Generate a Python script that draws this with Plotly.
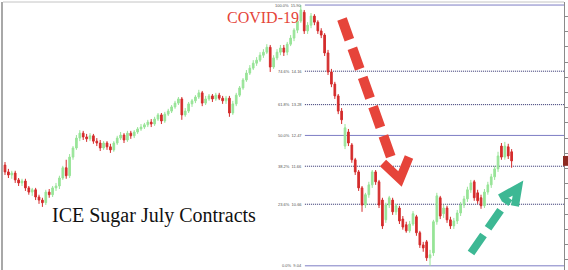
import plotly.graph_objects as go

# ---------------- data ----------------
idx = list(range(150))

open_ = [11.69, 11.51, 11.43, 11.48, 11.30, 11.22, 11.27, 11.09, 10.98, 11.04,
         10.85, 10.77, 10.70, 10.98, 10.91, 11.09, 11.14, 11.35, 11.62, 11.41,
         11.90, 12.14, 12.40, 12.53, 12.43, 12.38, 12.46, 12.32, 12.27, 12.14,
         12.27, 12.17, 12.09, 12.27, 12.40, 12.48, 12.35, 12.53, 12.46, 12.56,
         12.64, 12.69, 12.75, 12.82, 12.77, 12.90, 13.01, 12.85, 13.03, 13.11,
         13.22, 13.32, 13.43, 13.01, 13.11, 13.30, 13.38, 13.48, 13.59, 13.32,
         13.43, 13.51, 13.43, 13.53, 13.45, 13.38, 13.45, 13.06, 13.30, 13.53,
         13.72, 13.93, 14.11, 14.24, 14.37, 14.45, 14.58, 14.66, 14.79, 14.27,
         14.51, 14.66, 14.77, 14.66, 14.87, 15.03, 15.24, 15.48, 15.71, 15.22,
         15.37, 15.61, 15.45, 15.22, 15.11, 14.64, 14.14, 13.82, 13.51, 13.11,
         12.19, 12.56, 12.22, 11.83, 11.51, 11.09, 10.64, 10.91, 11.17, 11.51,
         11.25, 10.77, 10.25, 10.64, 10.77, 10.46, 10.56, 10.27, 10.12, 9.96,
         10.14, 10.33, 9.91, 9.59, 9.67, 9.25, 9.38, 10.20, 10.83, 10.41,
         10.56, 10.25, 10.09, 10.22, 10.43, 10.64, 10.80, 11.04, 11.25, 10.96,
         10.83, 10.62, 10.98, 11.17, 11.38, 11.59, 12.19, 11.90, 12.17, 12.04]

high = [11.77, 11.59, 11.54, 11.54, 11.35, 11.33, 11.33, 11.14, 11.09, 11.09,
        10.91, 10.83, 11.04, 11.06, 11.14, 11.22, 11.41, 11.67, 11.83, 11.98,
        12.19, 12.48, 12.61, 12.59, 12.51, 12.53, 12.51, 12.40, 12.35, 12.32,
        12.32, 12.25, 12.32, 12.46, 12.56, 12.53, 12.59, 12.59, 12.61, 12.69,
        12.77, 12.80, 12.88, 12.90, 12.96, 13.06, 13.06, 13.09, 13.17, 13.27,
        13.38, 13.48, 13.48, 13.19, 13.35, 13.43, 13.53, 13.67, 13.64, 13.51,
        13.56, 13.56, 13.59, 13.59, 13.51, 13.51, 13.51, 13.38, 13.59, 13.77,
        13.98, 14.19, 14.32, 14.45, 14.53, 14.66, 14.74, 14.87, 14.85, 14.58,
        14.74, 14.85, 14.85, 14.93, 15.11, 15.29, 15.56, 15.90, 15.77, 15.45,
        15.69, 15.66, 15.50, 15.29, 15.16, 14.72, 14.22, 13.88, 13.56, 13.19,
        12.77, 12.64, 12.27, 11.88, 11.56, 11.14, 10.96, 11.25, 11.56, 11.56,
        11.30, 10.83, 10.70, 10.88, 10.83, 10.67, 10.62, 10.35, 10.20, 10.22,
        10.48, 10.38, 9.96, 9.67, 9.72, 9.46, 10.25, 10.96, 10.88, 10.64,
        10.62, 10.33, 10.30, 10.51, 10.72, 10.88, 11.12, 11.30, 11.30, 11.04,
        10.91, 11.06, 11.25, 11.46, 11.67, 12.04, 12.27, 12.30, 12.25, 12.11]

low = [11.43, 11.35, 11.33, 11.22, 11.14, 11.14, 11.01, 10.91, 10.88, 10.77,
       10.67, 10.59, 10.64, 10.83, 10.85, 11.01, 11.06, 11.30, 11.33, 11.35,
       11.83, 12.09, 12.32, 12.35, 12.30, 12.32, 12.25, 12.19, 12.06, 12.09,
       12.09, 12.01, 12.04, 12.22, 12.35, 12.27, 12.30, 12.38, 12.40, 12.51,
       12.59, 12.64, 12.69, 12.69, 12.72, 12.85, 12.77, 12.80, 12.98, 13.06,
       13.17, 13.27, 12.88, 12.96, 13.06, 13.22, 13.32, 13.43, 13.24, 13.27,
       13.38, 13.35, 13.38, 13.40, 13.30, 13.30, 12.96, 13.01, 13.24, 13.48,
       13.67, 13.88, 14.06, 14.19, 14.30, 14.40, 14.51, 14.61, 14.14, 14.22,
       14.45, 14.58, 14.56, 14.58, 14.82, 14.95, 15.16, 15.43, 15.14, 15.14,
       15.29, 15.37, 15.14, 15.03, 14.56, 14.06, 13.74, 13.43, 13.03, 12.77,
       12.11, 12.19, 11.75, 11.43, 11.01, 10.46, 10.56, 10.83, 11.09, 11.17,
       10.56, 10.01, 10.17, 10.56, 10.38, 10.38, 10.14, 9.99, 9.91, 9.91,
       10.09, 9.83, 9.51, 9.41, 9.17, 9.04, 9.30, 10.12, 10.27, 10.30,
       10.17, 10.01, 10.01, 10.14, 10.35, 10.56, 10.72, 10.96, 10.75, 10.67,
       10.54, 10.56, 10.91, 11.09, 11.30, 11.51, 11.83, 11.83, 11.85, 11.62]

close = [11.51, 11.43, 11.48, 11.30, 11.22, 11.27, 11.09, 10.98, 11.04, 10.85,
         10.77, 10.70, 10.98, 10.91, 11.09, 11.14, 11.35, 11.62, 11.41, 11.90,
         12.14, 12.40, 12.53, 12.43, 12.38, 12.46, 12.32, 12.27, 12.14, 12.27,
         12.17, 12.09, 12.27, 12.40, 12.48, 12.35, 12.53, 12.46, 12.56, 12.64,
         12.69, 12.75, 12.82, 12.77, 12.90, 13.01, 12.85, 13.03, 13.11, 13.22,
         13.32, 13.43, 13.01, 13.11, 13.30, 13.38, 13.48, 13.59, 13.32, 13.43,
         13.51, 13.43, 13.53, 13.45, 13.38, 13.45, 13.06, 13.30, 13.53, 13.72,
         13.93, 14.11, 14.24, 14.37, 14.45, 14.58, 14.66, 14.79, 14.27, 14.51,
         14.66, 14.77, 14.66, 14.87, 15.03, 15.24, 15.48, 15.77, 15.22, 15.37,
         15.61, 15.45, 15.22, 15.11, 14.64, 14.14, 13.82, 13.51, 13.11, 12.88,
         12.67, 12.27, 11.83, 11.51, 11.09, 10.64, 10.91, 11.17, 11.51, 11.25,
         10.64, 10.09, 10.64, 10.83, 10.46, 10.62, 10.22, 10.06, 9.96, 10.14,
         10.41, 9.91, 9.59, 9.51, 9.25, 9.33, 10.20, 10.88, 10.35, 10.56,
         10.25, 10.09, 10.22, 10.43, 10.64, 10.80, 11.04, 11.22, 10.83, 10.75,
         10.62, 10.98, 11.17, 11.38, 11.59, 11.93, 11.90, 12.19, 11.93, 11.80]

fib_pct = [100.0, 74.6, 61.8, 50.0, 38.2, 23.6, 0.0]
fib_price = [15.90, 14.16, 13.28, 12.47, 11.66, 10.66, 9.04]
fib_solid = [True, False, False, True, False, False, True]
fib_start = 88.2          # index where the retracement starts (the top)

event_text = "COVID-19"
title_text = "ICE Sugar July Contracts"

# ---------------- layout helpers ----------------
W, H = 568, 270
ML, MR, MT, MB = 3, 4, 2, 0
XR = [-0.59, 164.4]
YR = [8.93, 15.98]


def px(x):
    return (x - ML) / (W - ML - MR)


def py(y):
    return 1 - (y - MT) / (H - MT - MB)


GREEN = "#98e498"
RED = "#d42c2c"

fig = go.Figure(go.Candlestick(
    x=idx, open=open_, high=high, low=low, close=close,
    increasing=dict(line=dict(color=GREEN, width=1), fillcolor=GREEN),
    decreasing=dict(line=dict(color=RED, width=1), fillcolor=RED),
    whiskerwidth=0, hoverinfo="skip", showlegend=False,
))

shapes = []
annotations = []
for pct, price, solid in zip(fib_pct, fib_price, fib_solid):
    shapes.append(dict(
        type="line", xref="x", yref="y", x0=fib_start, x1=XR[1], y0=price, y1=price,
        line=dict(color="#7d7dc4" if solid else "#2c2c6c", width=1,
                  dash="solid" if solid else "1px,1px"),
        layer="below"))
    annotations.append(dict(
        x=fib_start - 0.3, y=price, xref="x", yref="y", xanchor="right", yanchor="middle",
        text=f"{pct:.1f}%  {price:.2f}", showarrow=False,
        font=dict(family="Liberation Sans", size=4, color="#555")))

# frame lines
shapes.append(dict(type="line", xref="paper", yref="paper", x0=px(2), x1=px(2), y0=0, y1=1,
                   line=dict(color="#a8a8a8", width=2)))
shapes.append(dict(type="line", xref="paper", yref="paper", x0=px(3), x1=px(564), y0=py(2), y1=py(2),
                   line=dict(color="#c4c4c4", width=1)))

# red dashed arrow (down)
RED_ARROW = "#e6443a"
shapes.append(dict(type="line", xref="paper", yref="paper",
                   x0=px(342), y0=py(19), x1=px(393), y1=py(163),
                   line=dict(color=RED_ARROW, width=10, dash="22px,9px")))
shapes.append(dict(type="path", xref="paper", yref="paper",
                   path=f"M {px(383)} {py(163)} L {px(400)} {py(179)} L {px(409)} {py(157)}",
                   line=dict(color=RED_ARROW, width=9)))

# teal dashed arrow (up)
TEAL = "#3db894"
shapes.append(dict(type="line", xref="paper", yref="paper",
                   x0=px(471), y0=py(253), x1=px(509), y1=py(198),
                   line=dict(color=TEAL, width=8, dash="22px,8px")))
shapes.append(dict(type="path", xref="paper", yref="paper",
                   path=f"M {px(500)} {py(198)} L {px(518)} {py(188)} L {px(515)} {py(206)}",
                   line=dict(color=TEAL, width=8)))

# current price marker on the right axis
shapes.append(dict(type="rect", xref="paper", yref="y", x0=px(563), x1=px(568),
                   y0=close[-1] - 0.13, y1=close[-1] + 0.13,
                   fillcolor="#8e2a22", line=dict(width=0)))

annotations.append(dict(x=px(263), y=py(18), xref="paper", yref="paper",
                        xanchor="center", yanchor="middle",
                        text=event_text, showarrow=False,
                        font=dict(family="Liberation Serif", size=16, color="#e5453a")))
annotations.append(dict(x=px(50), y=py(215), xref="paper", yref="paper",
                        xanchor="left", yanchor="middle",
                        text=title_text, showarrow=False,
                        font=dict(family="Liberation Serif", size=20, color="#111")))

fig.update_layout(
    width=W, height=H,
    margin=dict(l=ML, r=MR, t=MT, b=MB),
    paper_bgcolor="white", plot_bgcolor="white",
    shapes=shapes, annotations=annotations,
    showlegend=False,
    xaxis=dict(range=XR, visible=False, rangeslider=dict(visible=False)),
    yaxis=dict(range=YR, side="right", showgrid=False, zeroline=False,
               showline=True, linecolor="#8a8a8a", linewidth=1,
               ticks="outside", ticklen=3, tickcolor="#8a8a8a",
               tick0=0, dtick=0.4, showticklabels=False),
)

fig.write_html("out.html")
